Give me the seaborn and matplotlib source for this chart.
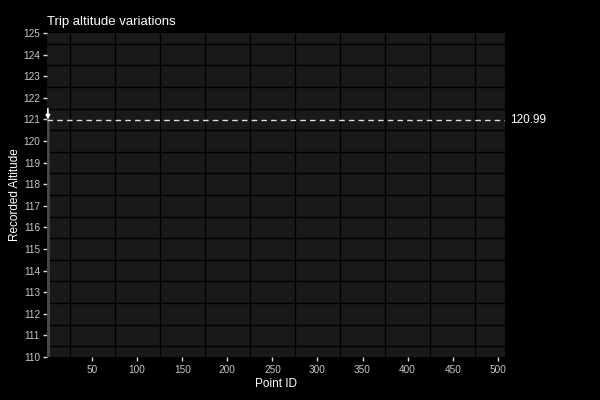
import numpy as np
import pandas as pd
import matplotlib
matplotlib.use("Agg")
import matplotlib.pyplot as plt
import seaborn as sns

# Data (only the first point is inside the visible range)
point_ids = [1, 2, 3, 250, 508]
altitudes = [120.99, 98.0, 97.5, 96.0, 95.0]
ref_value = 120.99
ref_label = "120.99"

x_ticks = [50, 100, 150, 200, 250, 300, 350, 400, 450, 500]
y_ticks = list(range(110, 126))

title = "Trip altitude variations"
x_label = "Point ID"
y_label = "Recorded Altitude"

sns.set_theme(style="dark")
plt.rcParams['font.family'] = ['Liberation Sans', 'DejaVu Sans']

df = pd.DataFrame({"Point ID": point_ids, "Altitude": altitudes})

fig = plt.figure(figsize=(6, 4), dpi=100, facecolor="black")
ax = fig.add_axes([47/600, 43/400, 458/600, 324/400])
ax.set_facecolor("#191919")

sns.lineplot(data=df, x="Point ID", y="Altitude", ax=ax, color="#474747",
             linewidth=2.5, zorder=3)

ax.set_xlim(0, 508)
ax.set_ylim(110, 125)

ax.set_xticks(x_ticks)
ax.set_yticks(y_ticks)
ax.set_xticks(np.arange(25, 508, 25), minor=True)
ax.set_yticks(np.arange(110.5, 125, 1.0), minor=True)

ax.grid(False)
ax.grid(True, which="minor", axis="both", color="black", linewidth=1.0, zorder=1)
ax.set_axisbelow(True)

ax.tick_params(axis="both", which="major", colors="#dddddd", labelsize=7.2,
               length=3, width=1, direction="out", pad=2)
ax.tick_params(axis="both", which="minor", length=0)
ax.tick_params(axis="x", which="major", bottom=True, pad=3)
ax.tick_params(axis="y", which="major", left=True)
for lab in ax.get_xticklabels() + ax.get_yticklabels():
    lab.set_color("#c8c8c8")

for s in ax.spines.values():
    s.set_visible(False)

ax.axhline(ref_value, color="#dddddd", linestyle=(0, (4, 3)), linewidth=1, zorder=4)
ax.text(1.01, ref_value, ref_label, transform=ax.get_yaxis_transform(),
        color="white", fontsize=8.5, va="center", ha="left")

ax.annotate("", xy=(point_ids[0], altitudes[0]), xytext=(point_ids[0], altitudes[0] + 0.5),
            arrowprops=dict(arrowstyle="-|>", color="white", lw=1.2,
                            shrinkA=0, shrinkB=0, mutation_scale=6), zorder=5)

ax.set_title(title, loc="left", color="white", fontsize=9.5, pad=6)
ax.set_xlabel(x_label, color="white", fontsize=8.5, labelpad=2)
ax.set_ylabel(y_label, color="white", fontsize=8.5)
ax.yaxis.set_label_coords(-0.057, 0.5)

fig.savefig("out.png", dpi=100, facecolor="black")
